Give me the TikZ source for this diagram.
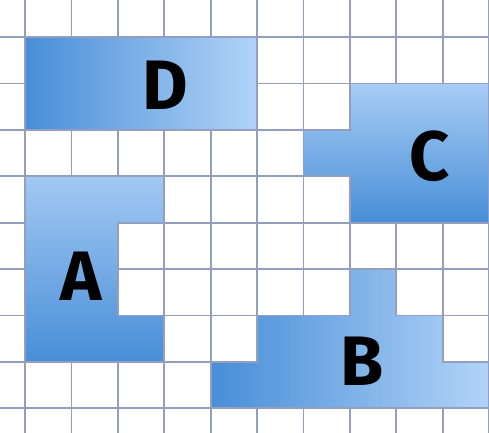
\documentclass[tikz,border=0pt]{standalone}
\usepackage{fontspec}
\newfontfamily\labfont{Fira Sans}
\definecolor{gridc}{RGB}{148,158,190}
\definecolor{dk}{RGB}{72,142,215}
\definecolor{lt}{RGB}{178,211,248}
\begin{document}
\begin{tikzpicture}[x=1pt,y=-1pt,
  gridline/.style={draw=gridc,line width=1.8pt},
  piece/.style={draw=gridc,line width=1.8pt,line join=miter},
  lbl/.style={inner sep=0pt,font=\labfont\bfseries\fontsize{70}{70}\selectfont,text=black}]
\useasboundingbox (0,0) rectangle (489,432);
\fill[white] (0,0) rectangle (489,432);
\begin{scope}[shift={(25,37)},x=46.4pt,y=-46.4pt]
  \clip (-0.54,-0.8) rectangle (10.0,8.52);
  \foreach \i in {0,...,10} {\draw[gridline] (\i,-1) -- (\i,9);}
  \foreach \j in {0,...,9} {\draw[gridline] (-1,\j) -- (11,\j);}
  % D
  \shade[piece,left color=dk,right color=lt] (0,0) rectangle (5,2);
  % C
  \shade[piece,top color=lt!90!dk,bottom color=dk] (7,1) -- (10,1) -- (10,4) -- (7,4) -- (7,3) -- (6,3) -- (6,2) -- (7,2) -- cycle;
  % A
  \shade[piece,top color=lt!85!dk,bottom color=dk] (0,3) -- (3,3) -- (3,4) -- (2,4) -- (2,6) -- (3,6) -- (3,7) -- (0,7) -- cycle;
  % B
  \shade[piece,left color=dk,right color=lt] (4,7) -- (5,7) -- (5,6) -- (7,6) -- (7,5) -- (8,5) -- (8,6) -- (9,6) -- (9,7) -- (10,7) -- (10,8) -- (4,8) -- cycle;
\end{scope}
\node[lbl] (D) at (165,85) {D};
\node[lbl] (C) at (430,156) {C};
\node[lbl] (A) at (81,276) {A};
\node[lbl] (B) at (362,361) {B};
\end{tikzpicture}
\end{document}
